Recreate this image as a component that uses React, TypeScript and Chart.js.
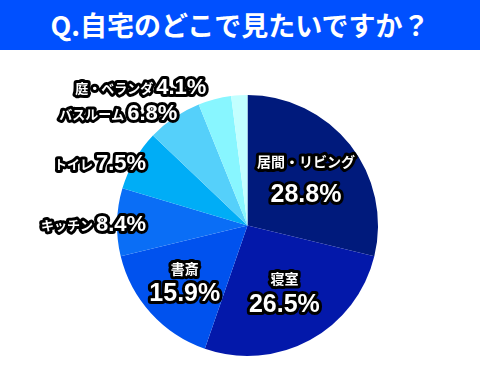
import React, { useEffect, useRef } from "react";
import { Chart, registerables } from "chart.js";

Chart.register(...registerables);

const TITLE = "Q.自宅のどこで見たいですか？";
const categories = ["居間・リビング", "寝室", "書斎", "キッチン", "トイレ", "バスルーム", "庭・ベランダ", "その他"];
const shares = [28.8, 26.5, 15.9, 8.4, 7.5, 6.8, 4.1, 2.0];
const labeled = [true, true, true, true, true, true, true, false];
const sliceColors = ["#001a7c", "#0318aa", "#0052ee", "#0a6ef6", "#00adf6", "#55d0fa", "#88f6ff", "#c2ffff"];

// label layout (relative to the pie centre, in units of radius)
type Lay = { kind: "in"; f: number; nameDy: number; pctDy: number } | { kind: "out"; dx: number; dy: number };
const LAYOUT: Lay[] = [
  { kind: "in", f: 0.57, nameDy: -16, pctDy: 16 },
  { kind: "in", f: 0.59, nameDy: -13, pctDy: 12 },
  { kind: "in", f: 0.65, nameDy: -12, pctDy: 12 },
  { kind: "out", dx: -0.777, dy: 0.042 },
  { kind: "out", dx: -0.777, dy: -0.427 },
  { kind: "out", dx: -0.538, dy: -0.812 },
  { kind: "out", dx: -0.315, dy: -1.004 },
  { kind: "out", dx: 0, dy: 0 },
];

const FONT = '"Liberation Sans", "Noto Sans CJK JP", sans-serif';

function outlined(ctx: CanvasRenderingContext2D, text: string, x: number, y: number) {
  ctx.lineJoin = "round";
  ctx.lineWidth = 6;
  ctx.strokeStyle = "#000";
  ctx.strokeText(text, x, y);
  ctx.fillStyle = "#fff";
  ctx.fillText(text, x, y);
}

const labelPlugin = {
  id: "sliceLabels",
  afterDatasetsDraw(chart: any) {
    const ctx: CanvasRenderingContext2D = chart.ctx;
    const meta = chart.getDatasetMeta(0);
    ctx.save();
    meta.data.forEach((arc: any, i: number) => {
      if (!labeled[i]) return;
      const p = arc.getProps(["x", "y", "startAngle", "endAngle", "outerRadius"], true);
      const r = p.outerRadius;
      const mid = (p.startAngle + p.endAngle) / 2;
      const pct = shares[i].toFixed(1) + "%";
      const lay = LAYOUT[i];
      if (lay.kind === "in") {
        const ax = p.x + Math.cos(mid) * r * lay.f;
        const ay = p.y + Math.sin(mid) * r * lay.f;
        ctx.textAlign = "center";
        ctx.textBaseline = "middle";
        ctx.font = `bold 14px ${FONT}`;
        outlined(ctx, categories[i], ax, ay + lay.nameDy);
        ctx.font = `bold 25px ${FONT}`;
        outlined(ctx, pct, ax, ay + lay.pctDy);
      } else {
        const rx = p.x + lay.dx * r;
        const by = p.y + lay.dy * r;
        ctx.textAlign = "right";
        ctx.textBaseline = "alphabetic";
        ctx.font = `bold 22px ${FONT}`;
        const w = ctx.measureText(pct).width;
        outlined(ctx, pct, rx, by);
        ctx.font = `bold 13px ${FONT}`;
        outlined(ctx, categories[i], rx - w - 3, by - 1);
      }
    });
    ctx.restore();
  },
};

export default function App() {
  const ref = useRef<HTMLCanvasElement>(null);
  useEffect(() => {
    document.body.style.margin = "0";
    const chart = new Chart(ref.current!, {
      type: "pie",
      data: {
        labels: categories,
        datasets: [
          {
            data: shares,
            backgroundColor: sliceColors,
            borderWidth: 0,
          },
        ],
      },
      options: {
        animation: false,
        responsive: true,
        maintainAspectRatio: false,
        layout: { padding: { top: 45, bottom: 14, left: 117, right: 102 } },
        plugins: {
          legend: { display: false },
          tooltip: { enabled: false },
          title: { display: false },
        },
      },
      plugins: [labelPlugin],
    });
    return () => chart.destroy();
  }, []);
  return (
    <div style={{ width: 480, height: 370, background: "#fff" }}>
      <div
        style={{
          height: 50,
          background: "#0050ff",
          color: "#fff",
          fontFamily: '"Noto Sans CJK JP", sans-serif',
          fontWeight: 700,
          fontSize: 27,
          lineHeight: "50px",
          textAlign: "center",
          whiteSpace: "nowrap",
        }}
      >
        {TITLE}
      </div>
      <div style={{ position: "relative", width: 480, height: 320 }}>
        <canvas ref={ref} />
      </div>
    </div>
  );
}
